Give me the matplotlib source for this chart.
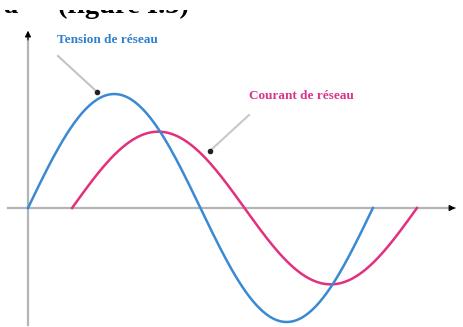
import numpy as np
import matplotlib.pyplot as plt
from matplotlib.transforms import Affine2D, Bbox

# waveform parameters (one period each, phase in degrees)
phase_deg = np.arange(0, 361, 2)
voltage_amp = 1.0
current_amp = 0.67
current_lag = 46
labels = ["Tension de réseau", "Courant de réseau"]
colors = ["#3a89d2", "#e2307c"]
text_colors = ["#2f7fd0", "#d9348a"]

fig = plt.figure(figsize=(4.64, 3.27), dpi=100)
ax = fig.add_axes([0, 0, 1, 1])
ax.set_xlim(-29.2, 455.1)
ax.set_ylim(-1.044, 1.825)
ax.axis("off")

# pixel coordinates measured from the top-left corner
pix = Affine2D().scale(1 / 464, -1 / 327).translate(0, 1) + fig.transFigure

# axes of the diagram
ax.plot([-21, 446], [0, 0], color="#b5b5b5", lw=1.6, zorder=1)
ax.plot([0, 0], [-1.026, 1.5], color="#b5b5b5", lw=1.6, zorder=1)
ax.annotate("", xy=(449, 0), xytext=(440, 0),
            arrowprops=dict(arrowstyle="-|>", color="black", lw=0.8, mutation_scale=9))
ax.annotate("", xy=(0, 1.58), xytext=(0, 1.45),
            arrowprops=dict(arrowstyle="-|>", color="black", lw=0.8, mutation_scale=9))

rad = np.deg2rad(phase_deg)
voltage = voltage_amp * np.sin(rad)
current = current_amp * np.sin(rad)
ax.plot(phase_deg, voltage, color=colors[0], lw=1.8, zorder=3)
ax.plot(phase_deg + current_lag, current, color=colors[1], lw=1.8, zorder=2)

# labels with pointer lines
ax.text(57, 40, labels[0], transform=pix, color=text_colors[0], fontsize=9.5,
        family="Liberation Serif", weight="bold", va="center", ha="left")
ax.text(249, 96, labels[1], transform=pix, color=text_colors[1], fontsize=9.5,
        family="Liberation Serif", weight="bold", va="center", ha="left")

ax.plot([58, 95], [56, 90], transform=pix, color="#c8c0c8", lw=1.5)
ax.plot([97], [92], transform=pix, marker="o", ms=3, color="#222222")
ax.plot([249, 212], [115, 149], transform=pix, color="#c8c8c8", lw=1.5)
ax.plot([210], [151], transform=pix, marker="o", ms=3, color="#222222")

# caption line from the page above, only its lower edge survives the crop
visible = Bbox.from_extents(0, 0, 464, 327 - 10)   # display pixels, from bottom
for x0, s in [(3, "à"), (58, "(figure I.3)")]:
    t = ax.text(x0, 13, s, transform=pix, fontsize=20.5, color="black",
                family="Liberation Serif", weight="bold", va="baseline", ha="left")
    t.set_clip_box(visible)
    t.set_clip_on(True)

fig.savefig("out.png", dpi=100)
